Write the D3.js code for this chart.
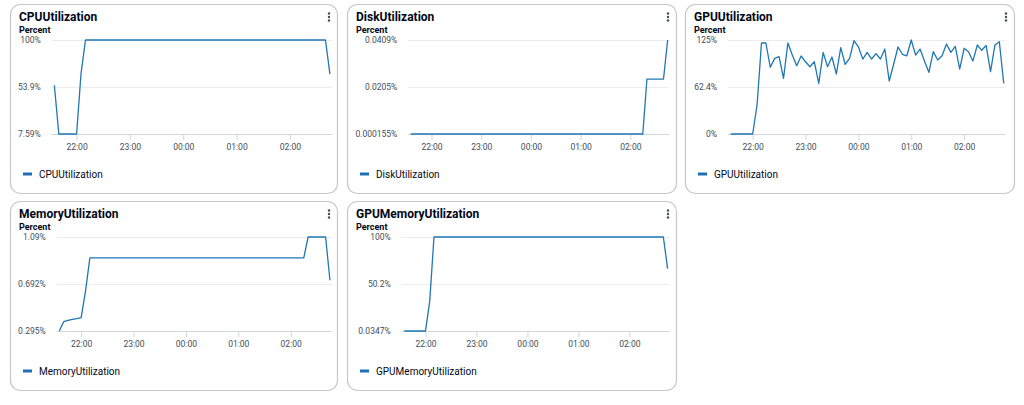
<!DOCTYPE html>
<html><head><meta charset="utf-8">
<script src="https://cdn.jsdelivr.net/npm/d3@7"></script>
<style>
html,body{margin:0;padding:0;background:#fff;}
svg{display:block;font-family:Roboto,sans-serif;}
</style></head>
<body><svg id="c" width="1024" height="405"></svg>
<script>
// ---- data ----
const startTime = new Date(2024,0,1,21,35);
const endTime = new Date(2024,0,2,2,45);
const times = d3.timeMinute.every(5).range(startTime, d3.timeMinute.offset(endTime,1));
const hourTicks = [new Date(2024,0,1,22,0),new Date(2024,0,1,23,0),new Date(2024,0,2,0,0),new Date(2024,0,2,1,0),new Date(2024,0,2,2,0)];

const cpuValues = [55.5,7.59,7.59,7.59,7.59,7.59,67,
 100,100,100,100,100,100,100,100,100,100,100,100,100,100,100,100,100,100,100,100,100,100,100,100,100,100,100,100,100,100,100,100,100,100,100,100,100,100,100,100,100,100,100,100,100,100,100,100,100,100,100,100,100,100,100,
 66.5];
const cpuTicks = [7.59,53.9,100];
const cpuTickLabels = ["7.59%","53.9%","100%"];

const diskValues = [0.000155,0.000155,0.000155,0.000155,0.000155,0.000155,0.000155,0.000155,0.000155,0.000155,
 0.000155,0.000155,0.000155,0.000155,0.000155,0.000155,0.000155,0.000155,0.000155,0.000155,
 0.000155,0.000155,0.000155,0.000155,0.000155,0.000155,0.000155,0.000155,0.000155,0.000155,
 0.000155,0.000155,0.000155,0.000155,0.000155,0.000155,0.000155,0.000155,0.000155,0.000155,
 0.000155,0.000155,0.000155,0.000155,0.000155,0.000155,0.000155,0.000155,0.000155,0.000155,
 0.000155,0.000155,0.000155,0.000155,0.000155,0.000155,0.000155,
 0.0239,0.0239,0.0239,0.0239,0.0239,0.0409];
const diskTicks = [0.000155,0.0205,0.0409];
const diskTickLabels = ["0.000155%","0.0205%","0.0409%"];

const gpuValues = [0,0,0,0,0,0,
 38.6,121,121,88.7,100.6,102.8,74,121,105,90.8,103.7,
 96,89.5,96,67.4,108.6,89.5,102.4,79.8,114.8,92.7,100.6,124,
 116,99.7,108.6,99.7,107,99.7,113,70.5,92.7,115.7,106,104,
 125,105,113,97,82,109.5,98.4,104,119.7,108.6,116.6,86.4,
 114,109.5,97,118.4,111.3,117.6,82.9,118.4,122.7,67.4];
const gpuTicks = [0,62.4,125];
const gpuTickLabels = ["0%","62.4%","125%"];

const memValues = [0.295,0.374,0.385,0.393,0.400,0.408,0.632,
 0.913,0.913,0.913,0.913,0.913,0.913,0.913,0.913,0.913,0.913,
 0.913,0.913,0.913,0.913,0.913,0.913,0.913,0.913,0.913,0.913,
 0.913,0.913,0.913,0.913,0.913,0.913,0.913,0.913,0.913,0.913,
 0.913,0.913,0.913,0.913,0.913,0.913,0.913,0.913,0.913,0.913,
 0.913,0.913,0.913,0.913,0.913,0.913,0.913,0.913,0.913,0.913,
 1.09,1.09,1.09,1.09,1.09,0.724];
const memTicks = [0.295,0.692,1.09];
const memTickLabels = ["0.295%","0.692%","1.09%"];

const gpuMemValues = [0.0347,0.0347,0.0347,0.0347,0.0347,0.0347,31.8,
 100,100,100,100,100,100,100,100,100,100,100,100,100,100,100,100,100,100,100,100,100,100,100,100,100,100,100,100,100,100,100,100,100,100,100,100,100,100,100,100,100,100,100,100,100,100,100,100,100,100,100,100,100,100,100,
 66.4];
const gpuMemTicks = [0.0347,50.2,100];
const gpuMemTickLabels = ["0.0347%","50.2%","100%"];

const titles = ["CPUUtilization","DiskUtilization","GPUUtilization","MemoryUtilization","GPUMemoryUtilization"];
const unitLabel = "Percent";

// ---- layout ----
const panels = [
  {title:titles[0], values:cpuValues, ticks:cpuTicks, labels:cpuTickLabels, x:10, y:4, w:328, pl:41.7, pr:321.7},
  {title:titles[1], values:diskValues, ticks:diskTicks, labels:diskTickLabels, x:347, y:4, w:330, pl:61.3, pr:322.3},
  {title:titles[2], values:gpuValues, ticks:gpuTicks, labels:gpuTickLabels, x:685, y:4, w:330, pl:43, pr:320.5},
  {title:titles[3], values:memValues, ticks:memTicks, labels:memTickLabels, x:10, y:201, w:328, pl:46.7, pr:321.7},
  {title:titles[4], values:gpuMemValues, ticks:gpuMemTicks, labels:gpuMemTickLabels, x:347, y:201, w:330, pl:54.7, pr:322.3}
];
const H = 190, plotTop = 36, plotBottom = 130;
const lineColor = "#1f77b4";
const domainStart = new Date(2024,0,1,21,32);
const domainEnd = new Date(2024,0,2,2,47);

const svg = d3.select("#c");

panels.forEach(p => {
  const g = svg.append("g").attr("transform",`translate(${p.x},${p.y})`);
  g.append("rect").attr("x",0.5).attr("y",0.5).attr("width",p.w-1).attr("height",H-1)
    .attr("rx",10).attr("fill","#fff").attr("stroke","#c6c6cd").attr("stroke-width",1.2);
  g.append("text").attr("x",9).attr("y",16.8).attr("font-size",12).attr("font-weight",700)
    .attr("fill","#000716").text(p.title);
  g.append("text").attr("x",9).attr("y",28.5).attr("font-size",9).attr("font-weight",700)
    .attr("fill","#000716").text(unitLabel);
  [9.5,13,16.5].forEach(cy=>g.append("circle").attr("cx",p.w-9).attr("cy",cy).attr("r",1.2).attr("fill","#414d5c"));

  const x = d3.scaleTime().domain([domainStart,domainEnd]).range([p.pl,p.pr]);
  const y = d3.scaleLinear().domain([p.ticks[0],p.ticks[2]]).range([plotBottom,plotTop]);

  // y grid & labels
  const ya = d3.axisLeft(y).tickValues(p.ticks).tickSize(-(p.pr-p.pl))
    .tickFormat((d,i)=>p.labels[i]).tickPadding(11);
  const yg = g.append("g").attr("transform",`translate(${p.pl},0)`).call(ya);
  yg.select(".domain").remove();
  yg.selectAll("line").attr("stroke","#e9ebed").attr("stroke-width",1);
  yg.selectAll("text").attr("font-size",8.5).attr("fill","#414d5c").attr("font-family","Roboto, sans-serif");

  // x axis
  const xa = d3.axisBottom(x).tickValues(hourTicks).tickSize(6).tickPadding(4)
    .tickFormat(d3.timeFormat("%H:%M"));
  const xg = g.append("g").attr("transform",`translate(0,${plotBottom})`).call(xa);
  xg.select(".domain").attr("stroke","#d1d5db").attr("d",`M${p.pl},0.5H${p.pr}`);
  xg.selectAll("line").attr("stroke","#d1d5db");
  xg.selectAll("text").attr("font-size",8.5).attr("fill","#414d5c").attr("font-family","Roboto, sans-serif");

  // line
  const line = d3.line().x((d,i)=>x(times[i])).y(d=>y(d));
  g.append("path").datum(p.values).attr("d",line).attr("fill","none")
    .attr("stroke",lineColor).attr("stroke-width",1.3).attr("stroke-linejoin","round");

  // legend
  g.append("line").attr("x1",13).attr("x2",22).attr("y1",170).attr("y2",170)
    .attr("stroke","#1f6fb5").attr("stroke-width",3);
  g.append("text").attr("x",29).attr("y",173.5).attr("font-size",10).attr("fill","#000716").text(p.title);
});
</script></body></html>
